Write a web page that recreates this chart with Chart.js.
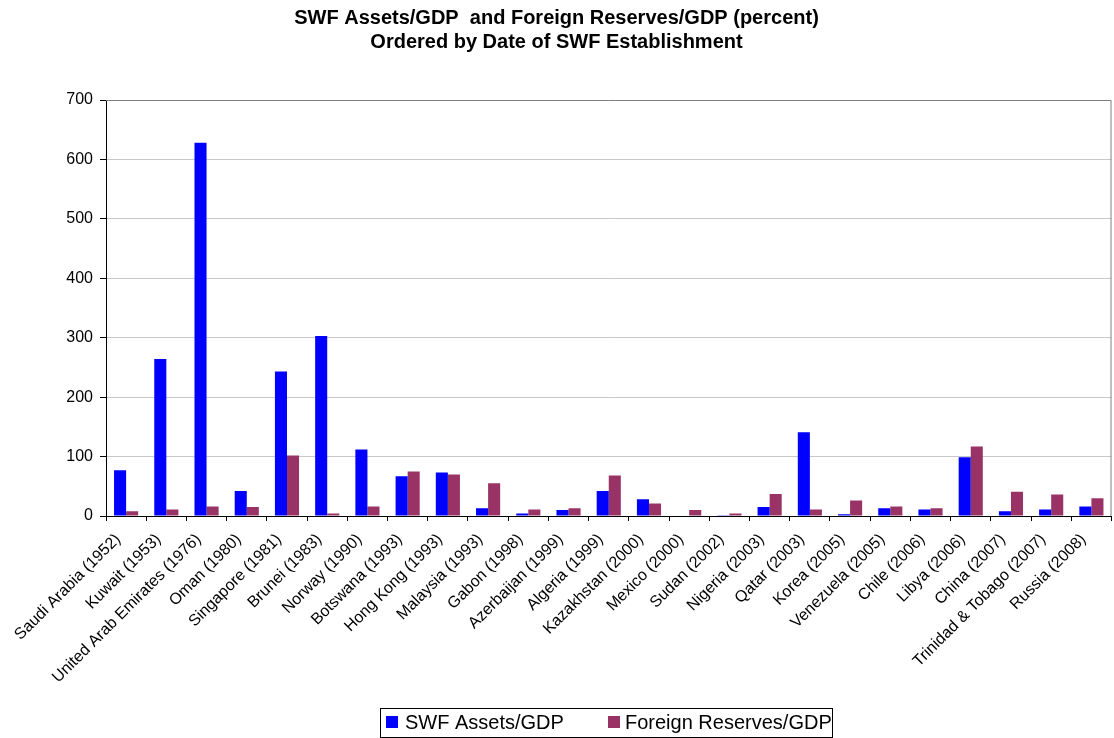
<!DOCTYPE html>
<html>
<head>
<meta charset="utf-8">
<script src="https://cdn.jsdelivr.net/npm/chart.js@4.4.1/dist/chart.umd.min.js"></script>
<style>
  html, body { margin: 0; padding: 0; background: #fff; }
  #wrap { width: 1114px; height: 738px; }
</style>
</head>
<body>
<div id="wrap"><canvas id="myChart" width="1114" height="738"></canvas></div>
<script>
const countries = [
  'Saudi Arabia (1952)', 'Kuwait (1953)', 'United Arab Emirates (1976)', 'Oman (1980)',
  'Singapore (1981)', 'Brunei (1983)', 'Norway (1990)', 'Botswana (1993)',
  'Hong Kong (1993)', 'Malaysia (1993)', 'Gabon (1998)', 'Azerbaijan (1999)',
  'Algeria (1999)', 'Kazakhstan (2000)', 'Mexico (2000)', 'Sudan (2002)',
  'Nigeria (2003)', 'Qatar (2003)', 'Korea (2005)', 'Venezuela (2005)',
  'Chile (2006)', 'Libya (2006)', 'China (2007)', 'Trinidad & Tobago (2007)',
  'Russia (2008)'
];

const swfAssets = [77, 264, 628, 42, 243, 303, 112, 67, 73, 13, 4, 10, 42, 28, 1, 0.5, 15, 141, 3, 13, 11, 99, 8, 11, 16];
const foreignReserves = [8, 11, 16, 15, 102, 4, 16, 75, 70, 55, 11, 13, 68, 21, 10, 4, 37, 11, 26, 16, 13, 117, 41, 36, 30];

const yTicks = [0, 100, 200, 300, 400, 500, 600, 700];

const FONT = '"Liberation Sans", Arial, sans-serif';

// frame on top/right of plot area plus boxed legend like the excel original
const extras = {
  id: 'extras',
  afterDraw(chart) {
    const { ctx, chartArea: a } = chart;
    ctx.save();
    ctx.strokeStyle = '#808080';
    ctx.lineWidth = 1;
    ctx.beginPath();
    ctx.moveTo(a.left, a.top + 0.5);
    ctx.lineTo(a.right - 0.5, a.top + 0.5);
    ctx.lineTo(a.right - 0.5, a.bottom);
    ctx.stroke();

    // legend
    ctx.strokeStyle = '#000';
    ctx.strokeRect(380.5, 708.5, 452, 29);
    ctx.font = '20px ' + FONT;
    ctx.textBaseline = 'middle';
    const items = [[386, 405], [608, 625]];
    chart.data.datasets.forEach((ds, i) => {
      ctx.fillStyle = ds.backgroundColor;
      ctx.fillRect(items[i][0], 716, 12, 12);
      ctx.fillStyle = '#000';
      ctx.fillText(ds.label, items[i][1], 723);
    });
    ctx.restore();
  }
};

const ctx = document.getElementById('myChart').getContext('2d');
const chart = new Chart(ctx, {
  type: 'bar',
  data: {
    labels: countries,
    datasets: [{
      label: 'SWF Assets/GDP',
      data: swfAssets,
      backgroundColor: '#0000FF',
      borderWidth: 0,
      categoryPercentage: 0.6,
      barPercentage: 1.0
    }, {
      label: 'Foreign Reserves/GDP',
      data: foreignReserves,
      backgroundColor: '#993366',
      borderWidth: 0,
      categoryPercentage: 0.6,
      barPercentage: 1.0
    }]
  },
  options: {
    responsive: false,
    animation: false,
    layout: {
      padding: { top: 0, right: 1, bottom: 52, left: 0 }
    },
    plugins: {
      legend: { display: false },
      tooltip: { enabled: false },
      title: {
        display: true,
        text: ['SWF Assets/GDP  and Foreign Reserves/GDP (percent)', 'Ordered by Date of SWF Establishment'],
        color: '#000',
        font: { family: FONT, size: 20, weight: 'bold', lineHeight: 1.2 },
        padding: { top: 6, bottom: 46 }
      }
    },
    scales: {
      x: {
        grid: {
          drawOnChartArea: false,
          drawTicks: true,
          tickLength: 5,
          tickColor: '#000',
          offset: true
        },
        border: { color: '#000', width: 1 },
        ticks: {
          color: '#000',
          font: { family: FONT, size: 16 },
          minRotation: 45,
          maxRotation: 45,
          autoSkip: false,
          padding: 9,
          labelOffset: -8
        },
        afterFit(scale) { scale.height = 170; }
      },
      y: {
        min: 0,
        max: 700,
        afterBuildTicks(scale) { scale.ticks = yTicks.map(v => ({ value: v })); },
        grid: {
          color: '#c8c8c8',
          tickColor: '#000',
          tickLength: 6
        },
        border: { color: '#000', width: 1 },
        ticks: {
          color: '#000',
          font: { family: FONT, size: 16 },
          padding: 7
        },
        afterFit(scale) { scale.width = 106; }
      }
    }
  },
  plugins: [extras]
});
</script>
</body>
</html>
